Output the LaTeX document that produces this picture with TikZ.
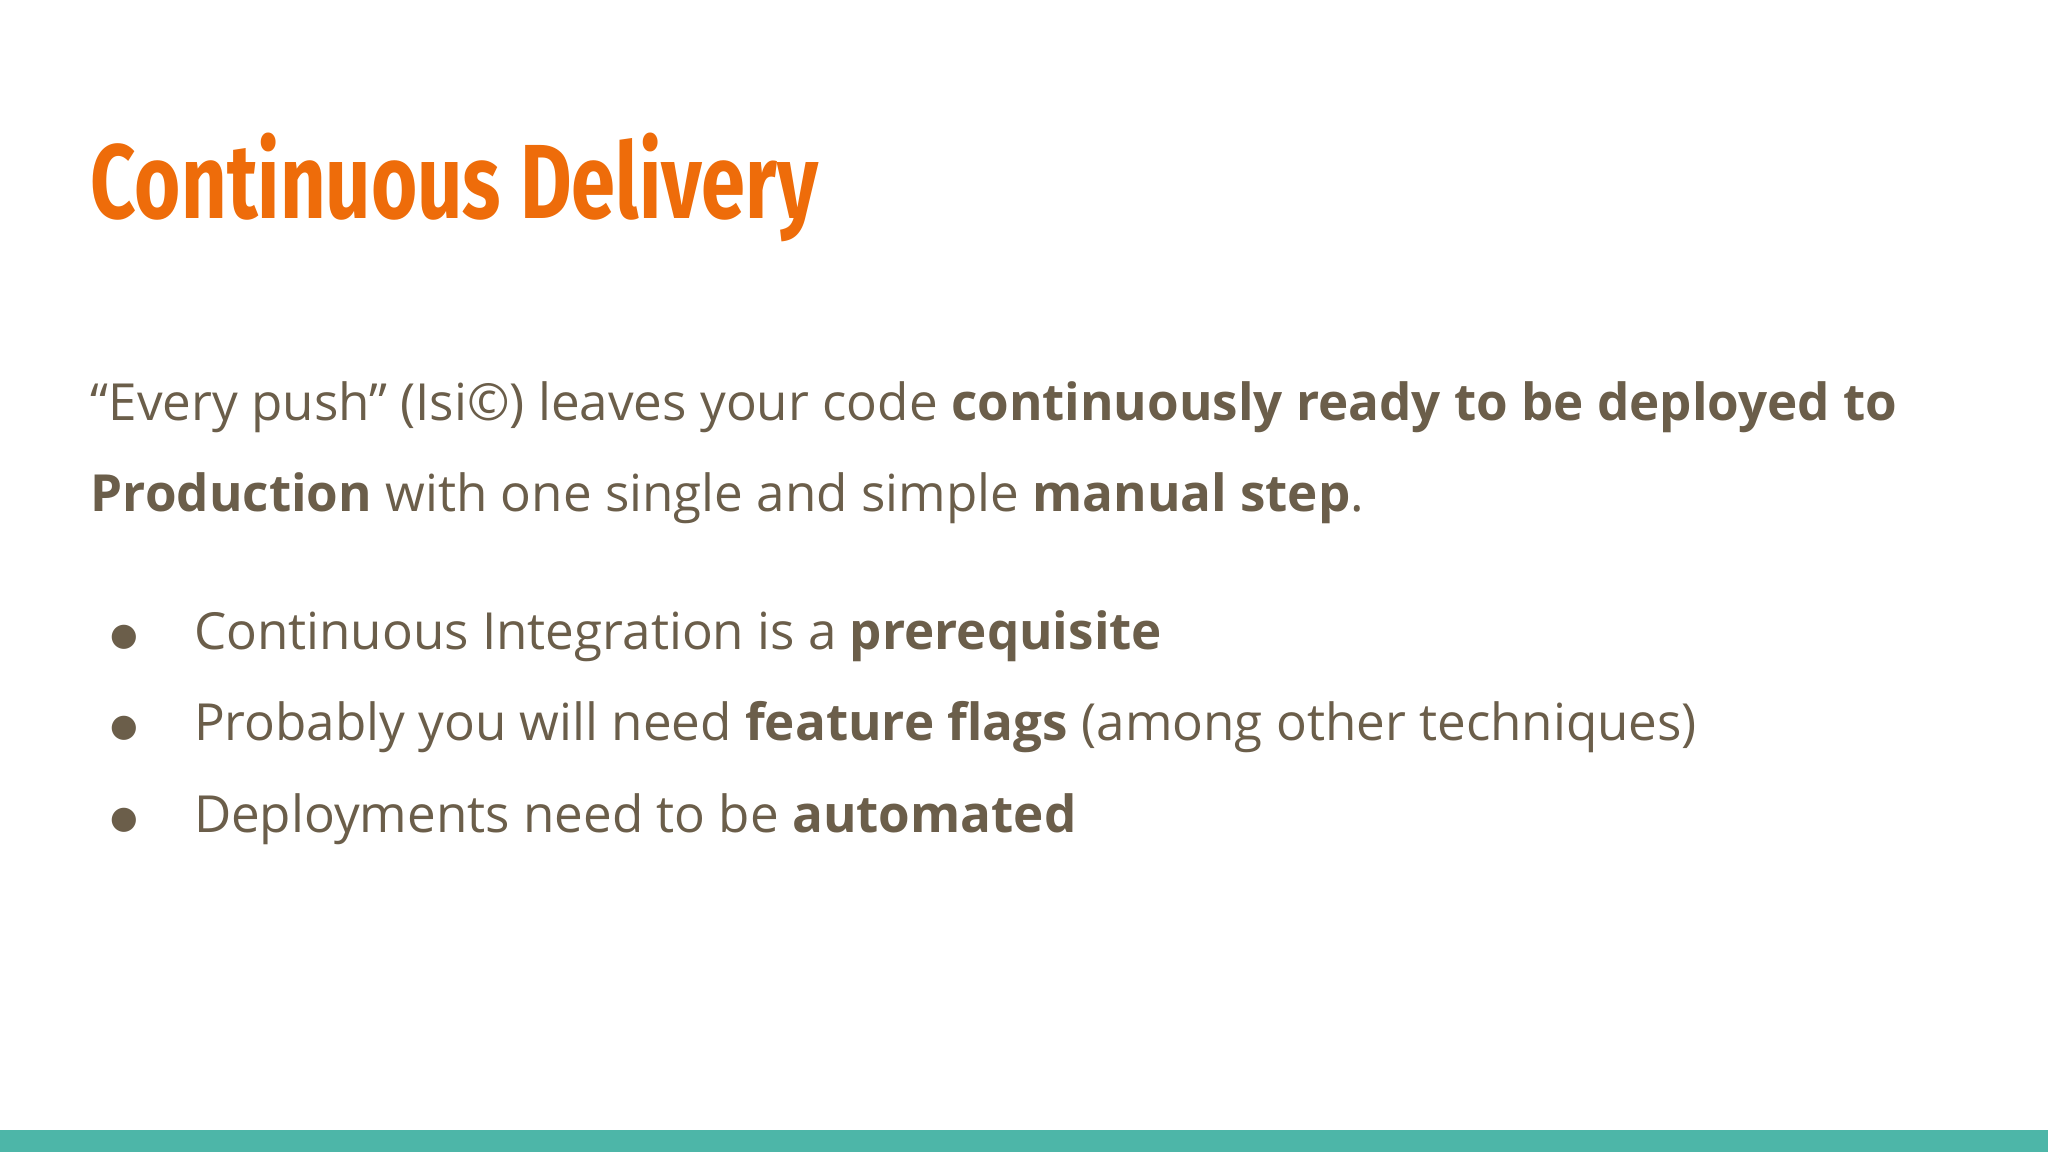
\documentclass[tikz,border=0pt]{standalone}
\usepackage{fontspec}
\setmainfont{Open Sans}
\newfontfamily\titlefont{Fira Sans}
\newfontfamily\symfont{DejaVu Sans}
\definecolor{bodyc}{HTML}{6B5E4A}
\definecolor{titlec}{HTML}{EE6C0A}
\definecolor{barc}{HTML}{4DB6A8}
\begin{document}
\begin{tikzpicture}[x=0.013061cm,y=-0.013061cm,
  txt/.style={anchor=base west,inner sep=0,text=bodyc,font=\fontsize{14.55}{17}\selectfont},
  bul/.style={anchor=base,inner sep=0,text=bodyc,font=\symfont\fontsize{9}{11}\selectfont}]
\useasboundingbox (0,0) rectangle (1568,882);
\fill[white] (0,0) rectangle (1568,882);
\fill[barc] (0,865) rectangle (1568,882);
\node[anchor=base west,inner sep=0,text=titlec] (title) at (69,167)
  {\resizebox{207pt}{\height}{\titlefont\bfseries\fontsize{30}{34}\selectfont Continuous Delivery}};
\node[txt] (l1) at (69,322) {“Every push” (Isi©) leaves your code \textbf{continuously ready to be deployed to}};
\node[txt] (l2) at (69,392) {\textbf{Production} with one single and simple \textbf{manual step}.};
\node[bul] (b1) at (95,494) {●};
\node[txt] (t1) at (148,497) {Continuous Integration is a \textbf{prerequisite}};
\node[bul] (b2) at (95,564) {●};
\node[txt] (t2) at (148,567) {Probably you will need \textbf{feature flags} (among other techniques)};
\node[bul] (b3) at (95,634) {●};
\node[txt] (t3) at (148,637) {Deployments need to be \textbf{automated}};
\end{tikzpicture}
\end{document}
